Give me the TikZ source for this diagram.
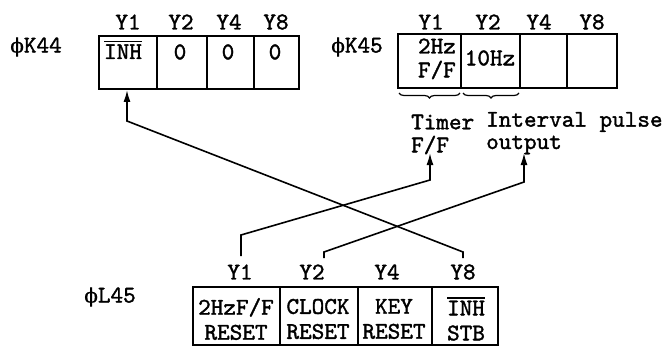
\documentclass[tikz,border=0pt]{standalone}
\usepackage{fontspec}
\newfontfamily\tw{lmmono10-regular}[Extension=.otf, FakeBold=1.5]
\newfontfamily\grk{DejaVu Serif}[FakeBold=0.5]
\newcommand\barred[1]{\vbox{\hrule height 1.3pt\kern2pt\hbox{#1}}}
\usetikzlibrary{decorations.pathreplacing,arrows.meta}
\begin{document}
\begin{tikzpicture}[x=1pt,y=-1pt,
  font=\tw\fontsize{24}{25}\selectfont,
  cell/.style={draw, line width=1.9pt, inner sep=0pt},
  txt/.style={inner sep=0pt, align=center},
  conn/.style={line width=1.6pt},
  arr/.style={conn, -{Latex[length=12pt,width=7pt]}},
  brc/.style={line width=1.2pt, decorate, decoration={brace, mirror, amplitude=5pt}}]
\useasboundingbox (0,0) rectangle (667,346);
% phi K44
\node[txt] (k44lbl) at (36,47) {{\grk\fontsize{20}{20}\selectfont ϕ}K44};
\node[txt] (k44y1) at (128,22) {Y1};
\node[txt] (k44y2) at (181,22) {Y2};
\node[txt] (k44y4) at (229,22) {Y4};
\node[txt] (k44y8) at (276,22) {Y8};
\node[cell, minimum width=58pt, minimum height=53pt] (k44a) at (128,62.5) {};
\node[cell, minimum width=50pt, minimum height=53pt] (k44b) at (182,62.5) {};
\node[cell, minimum width=47pt, minimum height=53pt] (k44c) at (230.5,62.5) {};
\node[cell, minimum width=45pt, minimum height=53pt] (k44d) at (276.5,62.5) {};
\node[txt] (k44ta) at (123,50) {\barred{INH}};
\node[txt] (k44tb) at (180,52) {0};
\node[txt] (k44tc) at (228,52) {0};
\node[txt] (k44td) at (275,52) {0};
% phi K45
\node[txt] (k45lbl) at (357,47) {{\grk\fontsize{20}{20}\selectfont ϕ}K45};
\node[txt] (k45y1) at (431,22) {Y1};
\node[txt] (k45y2) at (488,22) {Y2};
\node[txt] (k45y4) at (539,22) {Y4};
\node[txt] (k45y8) at (592,22) {Y8};
\node[cell, minimum width=63pt, minimum height=54pt] (k45a) at (429.5,61) {};
\node[cell, minimum width=59pt, minimum height=54pt] (k45b) at (490.5,61) {};
\node[cell, minimum width=47pt, minimum height=54pt] (k45c) at (543.5,61) {};
\node[cell, minimum width=50pt, minimum height=54pt] (k45d) at (592,61) {};
\node[txt, anchor=east] (k45ta1) at (456,46) {2Hz};
\node[txt, anchor=east] (k45ta2) at (456,70) {F/F};
\node[txt] (k45tb) at (490,58) {10Hz};
\draw[brc] (399,93) -- (460,93);
\draw[brc] (463,93) -- (519,93);
\node[txt, anchor=west] (timer) at (411,122) {Timer};
\node[txt, anchor=west] (timerff) at (411,145) {F/F};
\node[txt, anchor=west] (ipulse) at (486,122) {Interval pulse};
\node[txt, anchor=west] (ioutput) at (486,145) {output};
% phi L45
\node[txt] (l45lbl) at (110,297) {{\grk\fontsize{20}{20}\selectfont ϕ}L45};
\node[txt] (l45y1) at (240,272) {Y1};
\node[txt] (l45y2) at (312,272) {Y2};
\node[txt] (l45y4) at (387,272) {Y4};
\node[txt] (l45y8) at (463,272) {Y8};
\node[cell, minimum width=87pt, minimum height=58pt] (l45a) at (236.5,316) {};
\node[cell, minimum width=78pt, minimum height=58pt] (l45b) at (319,316) {};
\node[cell, minimum width=74pt, minimum height=58pt] (l45c) at (395,316) {};
\node[cell, minimum width=66pt, minimum height=58pt] (l45d) at (465,316) {};
\node[txt] (l45ta) at (236,319) {2HzF/F\\RESET};
\node[txt] (l45tb) at (318,319) {CLOCK\\RESET};
\node[txt] (l45tc) at (394,319) {KEY\\RESET};
\node[txt] (l45td) at (466,319) {\barred{INH}\\STB};
% connectors
\coordinate (s1) at (241,256);
\coordinate (c1a) at (241,235);
\coordinate (c1b) at (430,180);
\coordinate (t1) at (430,153);
\coordinate (s2) at (324,258);
\coordinate (c2a) at (324,252);
\coordinate (c2b) at (524,182);
\coordinate (t2) at (524,153);
\coordinate (s3) at (463,258);
\coordinate (c3a) at (463,252);
\coordinate (c3b) at (127,121);
\draw[arr] (s1) -- (c1a) -- (c1b) -- (t1);
\draw[arr] (s2) -- (c2a) -- (c2b) -- (t2);
\draw[arr] (s3) -- (c3a) -- (c3b) -- (c3b |- k44a.south);
\end{tikzpicture}
\end{document}
